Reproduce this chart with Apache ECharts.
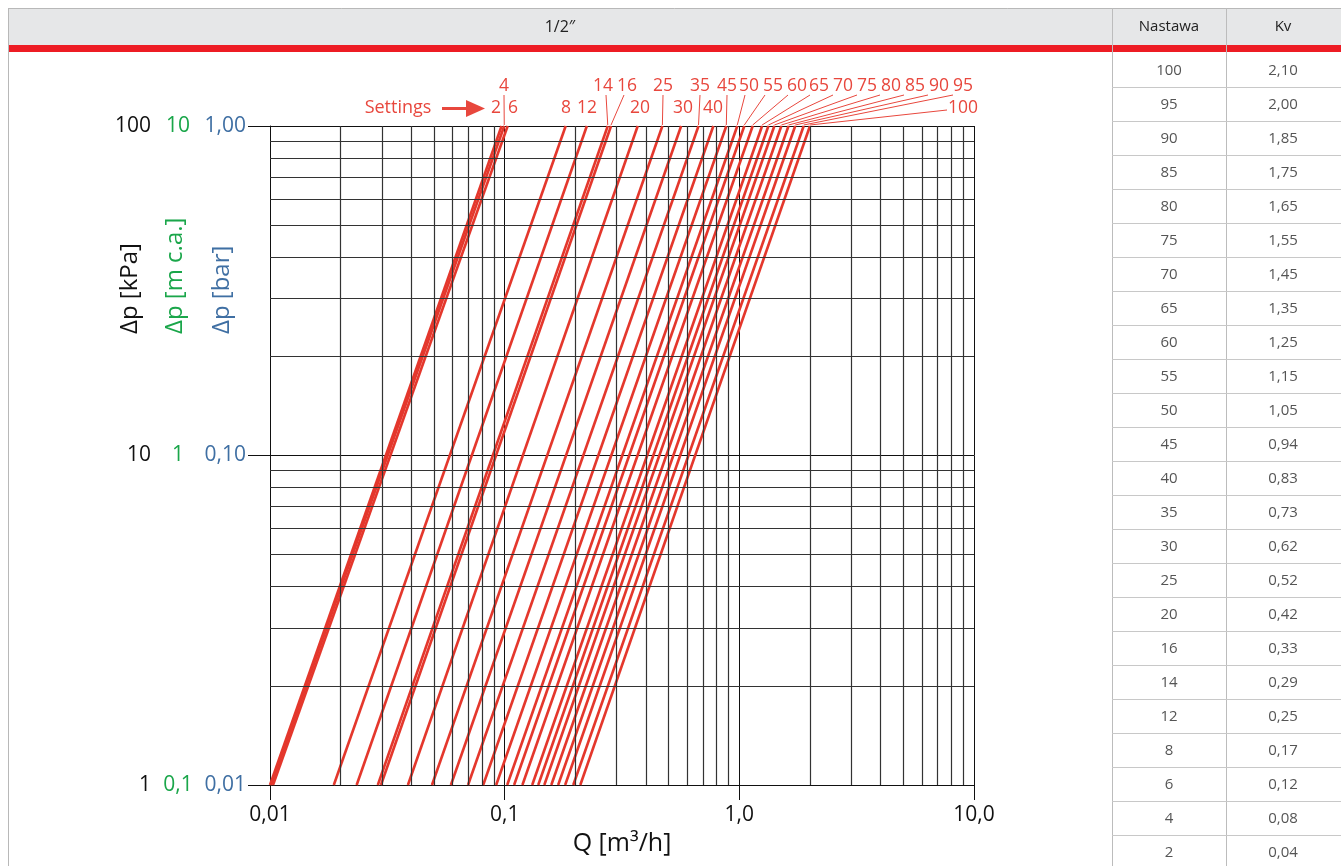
<!DOCTYPE html>
<html><head><meta charset="utf-8">
<script src="https://cdn.jsdelivr.net/npm/echarts@6/dist/echarts.min.js"></script>
<style>html,body{margin:0;padding:0;background:#fff}#c{width:1341px;height:866px}</style>
</head><body><div id="c"></div>
<script>
// ---------- data ----------
const settings = [2,4,6,8,12,14,16,20,25,30,35,40,45,50,55,60,65,70,75,80,85,90,95,100];
// flow Q [m3/h] read where each curve meets dp = 1 kPa (bottom) and dp = 100 kPa (top)
const qAtBottom = [0.0100,0.0101,0.0103,0.0187,0.0234,0.0288,0.0297,0.0387,0.049,0.059,0.0698,0.081,0.092,0.1025,0.1097,0.119,0.131,0.139,0.1475,0.158,0.169,0.181,0.196,0.210];
const qAtTop    = [0.097,0.0996,0.103,0.182,0.224,0.275,0.284,0.369,0.47,0.565,0.67,0.775,0.88,0.98,1.05,1.14,1.25,1.33,1.41,1.51,1.62,1.73,1.88,2.00];
const dpBottom = 1, dpTop = 100;
const xTickLabels = ['0,01','0,1','1,0','10,0'];   // 10^-2 .. 10^1
const yKpaLabels = ['1','10','100'];               // 10^0 .. 10^2
const yMcaLabels = ['0,1','1','10'];
const yBarLabels = ['0,01','0,10','1,00'];
const minorQ = [0.02,0.03,0.04,0.05,0.06,0.07,0.08,0.09,0.2,0.3,0.4,0.5,0.6,0.7,0.8,0.9,2,3,4,5,6,7,8,9];
const minorDp = [2,3,4,5,6,7,8,9,20,30,40,50,60,70,80,90];
const tableSettings = [100,95,90,85,80,75,70,65,60,55,50,45,40,35,30,25,20,16,14,12,8,6,4,2];
const tableKv = ['2,10','2,00','1,85','1,75','1,65','1,55','1,45','1,35','1,25','1,15','1,05','0,94','0,83','0,73','0,62','0,52','0,42','0,33','0,29','0,25','0,17','0,12','0,08','0,04'];
const headerTitle = '1/2″', headerSet = 'Nastawa', headerKv = 'Kv';
const settingsWord = 'Settings';
const titleKpa = 'Δp [kPa]', titleMca = 'Δp [m c.a.]', titleBar = 'Δp [bar]', titleQ = 'Q [m³/h]';

// ---------- layout / style ----------
const FONT = 'Open Sans';
const RED = '#e4372c', RED_TXT = '#e8473d', GREEN = '#1aa64a', BLUE = '#3f6fa3';
const labelLayout = [ // setting, label x, row, leader start x
 [2,496,1,null],[4,504,0,504],[6,513,1,null],[8,566,1,null],[12,587,1,null],[14,603,0,606],[16,627,0,624],
 [20,640,1,null],[25,663,0,663],[30,683,1,null],[35,700,0,700],[40,713,1,null],[45,727,0,727],
 [50,749,0,745],[55,773,0,765],[60,797,0,788],[65,819,0,810],[70,843,0,833],[75,867,0,857],
 [80,891,0,880],[85,915,0,904],[90,939,0,928],[95,963,0,953],[100,963,1,947]
];
const rowY = [86, 108], leadY = [95, 110];

const chart = echarts.init(document.getElementById('c'), null, {renderer:'canvas'});
const expIdx = v => Math.round(Math.log10(v));

function yAxisDef(labels, color, margin, align, main) {
  return {
    type:'log', logBase:10, min:dpBottom, max:dpTop, position:'left',
    axisLine:{show:main, lineStyle:{color:'#111', width:1}},
    axisTick:{show:main, length:22, lineStyle:{color:'#111', width:1}},
    splitLine:{show:main, lineStyle:{color:'#111', width:1}},
    minorTick:{show:false}, minorSplitLine:{show:false},
    axisLabel:{show:true, color, fontFamily:FONT, fontSize:21, margin, align,
      formatter: v => labels[expIdx(v)] }
  };
}

const series = [{
  type:'line', data:[[0.01,1]], symbol:'none', lineStyle:{opacity:0}, silent:true, z:1, animation:false,
  markLine:{silent:true, symbol:['none','none'], label:{show:false}, animation:false,
    lineStyle:{color:'#333', width:1.2, type:'solid'},
    emphasis:{disabled:true},
    data: minorQ.map(v=>({xAxis:v})).concat(minorDp.map(v=>({yAxis:v})))}
}];
settings.forEach((s,i)=>{
  series.push({type:'line', name:String(s), data:[[qAtBottom[i],dpBottom],[qAtTop[i],dpTop]],
    symbol:'none', silent:true, z:3, animation:false, lineStyle:{color:RED, width:2.6}});
});

chart.setOption({
  animation:false,
  grid:{left:270, right:367, top:126, bottom:81, containLabel:false},
  xAxis:{type:'log', logBase:10, min:0.01, max:10,
    axisLine:{lineStyle:{color:'#111', width:1}},
    axisTick:{length:15, lineStyle:{color:'#111'}},
    splitLine:{show:true, lineStyle:{color:'#111', width:1}},
    minorTick:{show:false},
    axisLabel:{color:'#111', fontFamily:FONT, fontSize:21, margin:20, formatter: v => xTickLabels[expIdx(v)+2]},
    name:titleQ, nameLocation:'middle', nameGap:40,
    nameTextStyle:{color:'#111', fontFamily:FONT, fontSize:25}},
  yAxis:[
    yAxisDef(yKpaLabels, '#111', 119, 'right', true),
    yAxisDef(yMcaLabels, GREEN, 92, 'center', false),
    yAxisDef(yBarLabels, BLUE, 24, 'right', false)
  ],
  series
});

// ---------- page graphics ----------
const g = [];
const lineEl = (x1,y1,x2,y2,stroke,w,z)=>({type:'line', shape:{x1,y1,x2,y2}, style:{stroke, lineWidth:w}, z:z||10, silent:true});
const txt = (x,y,text,fill,size,align,extra)=>Object.assign({type:'text', x, y, silent:true, z:20,
   style:{text, fill, font:`${size}px "${FONT}"`, align:align||'center', verticalAlign:'middle'}}, extra||{});

// header row
g.push({type:'rect', shape:{x:8,y:8,width:1333,height:37}, style:{fill:'#e6e7e8'}, z:5, silent:true});
g.push(lineEl(8,8.5,1341,8.5,'#b8b8b8',1));
g.push({type:'rect', shape:{x:8,y:45,width:1333,height:7}, style:{fill:'#ed1c24'}, z:6, silent:true});
g.push(lineEl(8.5,8,8.5,866,'#b8b8b8',1));
g.push(lineEl(1112.5,8,1112.5,866,'#bcbcbc',1));
g.push(lineEl(1226.5,8,1226.5,866,'#bcbcbc',1));
g.push(txt(560,27,headerTitle,'#222',16));
g.push(txt(1169,27,headerSet,'#222',15));
g.push(txt(1283,27,headerKv,'#222',15));
// table rows
tableSettings.forEach((s,i)=>{
  const yc = 70.5 + 34*i;
  g.push(lineEl(1112,yc+17,1341,yc+17,'#c8c8c8',1));
  g.push(txt(1169,yc,String(s),'#555',15));
  g.push(txt(1283,yc,tableKv[i],'#555',15));
});
// axis titles (rotated)
g.push(txt(130,334,titleKpa,'#111',24,'left',{rotation:Math.PI/2}));
g.push(txt(175,334,titleMca,GREEN,24,'left',{rotation:Math.PI/2}));
g.push(txt(222,334,titleBar,BLUE,24,'left',{rotation:Math.PI/2}));
// settings word + arrow
g.push(txt(398,108,settingsWord,RED_TXT,18));
g.push(lineEl(442,108.5,470,108.5,RED_TXT,3));
g.push({type:'polygon', shape:{points:[[466,100],[485,108.5],[466,117]]}, style:{fill:RED_TXT}, z:20, silent:true});
// setting labels + leaders
labelLayout.forEach(([s,x,row,lx])=>{
  g.push(txt(x,rowY[row],String(s),RED_TXT,17.5));
  if (lx !== null) {
    const i = settings.indexOf(s);
    const p = chart.convertToPixel({xAxisIndex:0, yAxisIndex:0}, [qAtTop[i], dpTop]);
    g.push(lineEl(lx, leadY[row], p[0], p[1]-1, RED_TXT, 1));
  }
});
chart.setOption({graphic:{elements:g}});
</script>
</body></html>
